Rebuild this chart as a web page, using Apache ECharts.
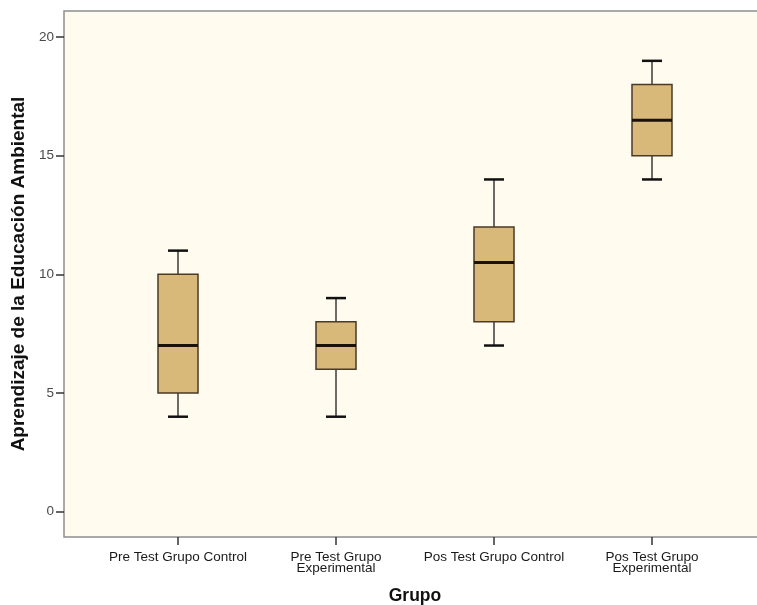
<!DOCTYPE html>
<html>
<head>
<meta charset="utf-8">
<script src="https://cdn.jsdelivr.net/npm/echarts@6/dist/echarts.min.js"></script>
<style>html,body{margin:0;padding:0;background:#fff;}#c{width:757px;height:605px;}</style>
</head>
<body>
<div id="c"></div>
<script>
var categories = ['Pre Test Grupo Control', 'Pre Test Grupo\nExperimental', 'Pos Test Grupo Control', 'Pos Test Grupo\nExperimental'];
var lowWhisker = [4, 4, 7, 14];
var q1 = [5, 6, 8, 15];
var median = [7, 7, 10.5, 16.5];
var q3 = [10, 8, 12, 18];
var highWhisker = [11, 9, 14, 19];
var yTicks = [0, 5, 10, 15, 20];

var data = categories.map(function (c, i) {
  return [i, lowWhisker[i], q1[i], median[i], q3[i], highWhisker[i]];
});

var yMin = -1.07, yMax = 21.1;
var chart = echarts.init(document.getElementById('c'));
chart.setOption({
  animation: false,
  grid: [
    {left: 99, right: 26, top: 11, bottom: 68, show: false, containLabel: false, outerBoundsMode: 'none'},
    {left: 64, right: -10, top: 11, bottom: 68, show: true, containLabel: false, outerBoundsMode: 'none', backgroundColor: '#FFFBEF', borderColor: '#8f8f8f', borderWidth: 1.5, z: 0}
  ],
  xAxis: [
    {type: 'category', gridIndex: 0, data: categories,
     axisLine: {show: false, onZero: false},
     axisTick: {show: true, inside: false, alignWithLabel: true, length: 8, lineStyle: {color: '#333', width: 1.5}},
     axisLabel: {interval: 0, hideOverlap: false, color: '#1a1a1a', fontFamily: 'Liberation Sans, Arial', fontSize: 13.5, lineHeight: 11, margin: 15},
     name: 'Grupo', nameLocation: 'middle', nameGap: 50,
     nameTextStyle: {fontFamily: 'Liberation Sans, Arial', fontWeight: 'bold', fontSize: 17.5, color: '#111'}},
    {type: 'category', gridIndex: 1, data: categories, show: false}
  ],
  yAxis: [
    {type: 'value', gridIndex: 0, min: yMin, max: yMax, show: false},
    {type: 'value', gridIndex: 1, min: yMin, max: yMax,
     splitLine: {show: false},
     axisLine: {show: false},
     axisTick: {show: true, length: 8, customValues: yTicks, lineStyle: {color: '#333', width: 1.5}},
     axisLabel: {color: '#4a4a4a', fontFamily: 'Liberation Sans, Arial', fontSize: 13.5, margin: 10, customValues: yTicks},
     name: 'Aprendizaje de la Educación Ambiental', nameLocation: 'middle', nameGap: 34,
     nameTextStyle: {fontFamily: 'Liberation Sans, Arial', fontWeight: 'bold', fontSize: 19, color: '#111'}}
  ],
  series: [{
    type: 'custom',
    xAxisIndex: 0, yAxisIndex: 0,
    encode: {x: 0, y: [1, 2, 3, 4, 5]},
    data: data,
    z: 5,
    renderItem: function (params, api) {
      var i = api.value(0);
      var pLow = api.coord([i, api.value(1)]);
      var pQ1 = api.coord([i, api.value(2)]);
      var pMed = api.coord([i, api.value(3)]);
      var pQ3 = api.coord([i, api.value(4)]);
      var pHigh = api.coord([i, api.value(5)]);
      var x = pMed[0];
      var hw = 20, cw = 10;
      return {
        type: 'group',
        children: [
          {type: 'line', shape: {x1: x, y1: pQ3[1], x2: x, y2: pHigh[1]}, style: {stroke: '#3a3a3a', lineWidth: 1.5}},
          {type: 'line', shape: {x1: x, y1: pQ1[1], x2: x, y2: pLow[1]}, style: {stroke: '#3a3a3a', lineWidth: 1.5}},
          {type: 'line', shape: {x1: x - cw, y1: pHigh[1], x2: x + cw, y2: pHigh[1]}, style: {stroke: '#111', lineWidth: 2.5}},
          {type: 'line', shape: {x1: x - cw, y1: pLow[1], x2: x + cw, y2: pLow[1]}, style: {stroke: '#111', lineWidth: 2.5}},
          {type: 'rect', shape: {x: x - hw, y: pQ3[1], width: 2 * hw, height: pQ1[1] - pQ3[1]}, style: {fill: '#D9B979', stroke: '#4a3a26', lineWidth: 1.5}},
          {type: 'line', shape: {x1: x - hw, y1: pMed[1], x2: x + hw, y2: pMed[1]}, style: {stroke: '#1a1208', lineWidth: 3}}
        ]
      };
    }
  }]
});
</script>
</body>
</html>
